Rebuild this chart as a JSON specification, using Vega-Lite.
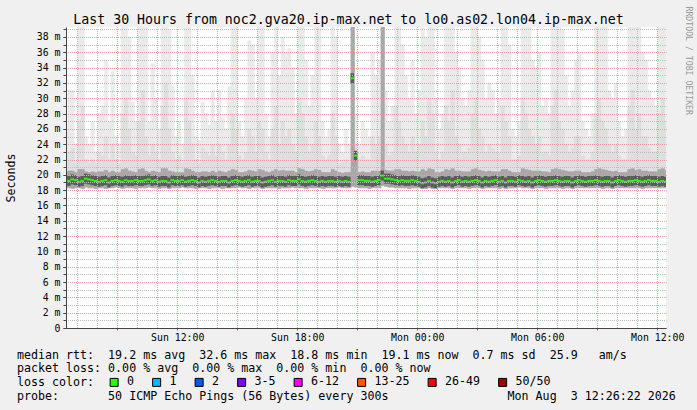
{
"$schema":"https://vega.github.io/schema/vega-lite/v6.json",
"width":600,"height":301,
"autosize":{"type":"none"},
"padding":{"left":66,"top":27,"right":31,"bottom":82},
"background":"#f0f0f0",
"config":{"font":"DejaVu Sans Mono","view":{"fill":"#ffffff","stroke":null},"axis":{"labelFont":"DejaVu Sans Mono","titleFont":"DejaVu Sans Mono","titleFontWeight":"normal","labelColor":"#000000","titleColor":"#000000"}},
"data":{"values":[
{"t":"2026-08-02T06:20","lo":18.3,"c2":20.4,"p90":22,"hi":26,"med":19.3,"loss":"0"},
{"t":"2026-08-02T06:30","lo":18.3,"c2":20.5,"p90":23,"hi":31,"med":19.2,"loss":"0"},
{"t":"2026-08-02T06:40","lo":18.2,"c2":20.5,"p90":23.5,"hi":31,"med":19.4,"loss":"0"},
{"t":"2026-08-02T06:50","lo":18.3,"c2":20.3,"p90":21.5,"hi":24,"med":19.3,"loss":"0"},
{"t":"2026-08-02T07:00","lo":18.3,"c2":20.7,"p90":27,"hi":45,"med":19.1,"loss":"0"},
{"t":"2026-08-02T07:10","lo":18.2,"c2":20.7,"p90":29,"hi":45,"med":19.2,"loss":"0"},
{"t":"2026-08-02T07:20","lo":18.4,"c2":20.4,"p90":22,"hi":25,"med":19.5,"loss":"0"},
{"t":"2026-08-02T07:30","lo":18.3,"c2":20.3,"p90":21.5,"hi":24,"med":19.4,"loss":"0"},
{"t":"2026-08-02T07:40","lo":18.3,"c2":20.4,"p90":22,"hi":27,"med":19.3,"loss":"0"},
{"t":"2026-08-02T07:50","lo":18.2,"c2":20.3,"p90":21.5,"hi":23,"med":19.2,"loss":"0"},
{"t":"2026-08-02T08:00","lo":18.3,"c2":20.4,"p90":23,"hi":28,"med":19.1,"loss":"0"},
{"t":"2026-08-02T08:10","lo":18.3,"c2":20.4,"p90":22.5,"hi":29,"med":19.2,"loss":"0"},
{"t":"2026-08-02T08:20","lo":18.2,"c2":20.6,"p90":25,"hi":35,"med":19.3,"loss":"0"},
{"t":"2026-08-02T08:30","lo":18.3,"c2":20.3,"p90":22,"hi":27,"med":19.0,"loss":"0"},
{"t":"2026-08-02T08:40","lo":18.3,"c2":20.5,"p90":24,"hi":33.5,"med":19.2,"loss":"0"},
{"t":"2026-08-02T08:50","lo":18.4,"c2":20.3,"p90":22,"hi":25,"med":19.3,"loss":"0"},
{"t":"2026-08-02T09:00","lo":18.3,"c2":20.3,"p90":21.5,"hi":24,"med":19.2,"loss":"0"},
{"t":"2026-08-02T09:10","lo":18.2,"c2":20.7,"p90":28,"hi":45,"med":19.1,"loss":"0"},
{"t":"2026-08-02T09:20","lo":18.3,"c2":20.8,"p90":30,"hi":45,"med":19.3,"loss":"0"},
{"t":"2026-08-02T09:30","lo":18.3,"c2":20.5,"p90":26,"hi":38,"med":19.2,"loss":"0"},
{"t":"2026-08-02T09:40","lo":18.3,"c2":20.4,"p90":23,"hi":29.5,"med":19.2,"loss":"0"},
{"t":"2026-08-02T09:50","lo":18.2,"c2":20.3,"p90":22.5,"hi":27,"med":19.3,"loss":"0"},
{"t":"2026-08-02T10:00","lo":18.3,"c2":20.7,"p90":27,"hi":45,"med":19.2,"loss":"0"},
{"t":"2026-08-02T10:10","lo":18.3,"c2":20.8,"p90":31,"hi":45,"med":19.2,"loss":"0"},
{"t":"2026-08-02T10:20","lo":18.3,"c2":20.5,"p90":25,"hi":40,"med":19.3,"loss":"0"},
{"t":"2026-08-02T10:30","lo":18.4,"c2":20.3,"p90":22.5,"hi":27,"med":19.4,"loss":"0"},
{"t":"2026-08-02T10:40","lo":18.3,"c2":20.5,"p90":24,"hi":34.5,"med":19.2,"loss":"0"},
{"t":"2026-08-02T10:50","lo":18.3,"c2":20.4,"p90":23,"hi":30,"med":19.3,"loss":"0"},
{"t":"2026-08-02T11:00","lo":18.2,"c2":20.3,"p90":22,"hi":26,"med":19.1,"loss":"0"},
{"t":"2026-08-02T11:10","lo":18.3,"c2":20.8,"p90":29,"hi":45,"med":19.2,"loss":"0"},
{"t":"2026-08-02T11:20","lo":18.3,"c2":20.8,"p90":32,"hi":45,"med":19.2,"loss":"0"},
{"t":"2026-08-02T11:30","lo":18.2,"c2":20.5,"p90":26,"hi":39,"med":19.0,"loss":"0"},
{"t":"2026-08-02T11:40","lo":18.3,"c2":20.4,"p90":23,"hi":31.5,"med":19.3,"loss":"0"},
{"t":"2026-08-02T11:50","lo":18.3,"c2":20.3,"p90":22,"hi":25,"med":19.2,"loss":"0"},
{"t":"2026-08-02T12:00","lo":18.3,"c2":20.3,"p90":22.5,"hi":27,"med":19.2,"loss":"0"},
{"t":"2026-08-02T12:10","lo":18.4,"c2":20.3,"p90":21.5,"hi":24,"med":19.3,"loss":"0"},
{"t":"2026-08-02T12:20","lo":18.3,"c2":20.8,"p90":30,"hi":45,"med":19.1,"loss":"0"},
{"t":"2026-08-02T12:30","lo":18.3,"c2":20.7,"p90":27,"hi":45,"med":19.2,"loss":"0"},
{"t":"2026-08-02T12:40","lo":18.3,"c2":20.5,"p90":24,"hi":33,"med":19.3,"loss":"0"},
{"t":"2026-08-02T12:50","lo":18.2,"c2":20.3,"p90":22,"hi":25,"med":19.2,"loss":"0"},
{"t":"2026-08-02T13:00","lo":18.3,"c2":20.3,"p90":21.5,"hi":24.5,"med":19.0,"loss":"0"},
{"t":"2026-08-02T13:10","lo":18.3,"c2":20.4,"p90":23.5,"hi":29.5,"med":19.2,"loss":"0"},
{"t":"2026-08-02T13:20","lo":18.3,"c2":20.4,"p90":23,"hi":28,"med":19.1,"loss":"0"},
{"t":"2026-08-02T13:30","lo":18.2,"c2":20.3,"p90":22.5,"hi":26.5,"med":19.2,"loss":"0"},
{"t":"2026-08-02T13:40","lo":18.3,"c2":20.5,"p90":24,"hi":31,"med":19.3,"loss":"0"},
{"t":"2026-08-02T13:50","lo":18.3,"c2":20.3,"p90":22.5,"hi":27,"med":19.2,"loss":"0"},
{"t":"2026-08-02T14:00","lo":18.3,"c2":20.5,"p90":24,"hi":31,"med":19.1,"loss":"0"},
{"t":"2026-08-02T14:10","lo":18.2,"c2":20.4,"p90":23,"hi":27.5,"med":19.2,"loss":"0"},
{"t":"2026-08-02T14:20","lo":18.3,"c2":20.3,"p90":22,"hi":26,"med":19.2,"loss":"0"},
{"t":"2026-08-02T14:30","lo":18.3,"c2":20.5,"p90":24,"hi":31.5,"med":19.0,"loss":"0"},
{"t":"2026-08-02T14:40","lo":18.3,"c2":20.7,"p90":28,"hi":45,"med":19.2,"loss":"0"},
{"t":"2026-08-02T14:50","lo":18.3,"c2":20.6,"p90":26,"hi":42,"med":19.3,"loss":"0"},
{"t":"2026-08-02T15:00","lo":18.4,"c2":20.3,"p90":22.5,"hi":27,"med":19.2,"loss":"0"},
{"t":"2026-08-02T15:10","lo":18.3,"c2":20.3,"p90":22,"hi":25,"med":19.1,"loss":"0"},
{"t":"2026-08-02T15:20","lo":18.3,"c2":20.4,"p90":23,"hi":30,"med":19.2,"loss":"0"},
{"t":"2026-08-02T15:30","lo":18.2,"c2":20.6,"p90":26,"hi":37.5,"med":19.3,"loss":"0"},
{"t":"2026-08-02T15:40","lo":18.3,"c2":20.5,"p90":25,"hi":37,"med":19.1,"loss":"0"},
{"t":"2026-08-02T15:50","lo":18.3,"c2":20.4,"p90":23,"hi":30,"med":19.2,"loss":"0"},
{"t":"2026-08-02T16:00","lo":18.3,"c2":20.7,"p90":27,"hi":45,"med":19.2,"loss":"0"},
{"t":"2026-08-02T16:10","lo":18.2,"c2":20.6,"p90":26,"hi":41,"med":19.0,"loss":"0"},
{"t":"2026-08-02T16:20","lo":18.3,"c2":20.4,"p90":23,"hi":28,"med":19.1,"loss":"0"},
{"t":"2026-08-02T16:30","lo":18.3,"c2":20.3,"p90":22,"hi":25,"med":19.2,"loss":"0"},
{"t":"2026-08-02T16:40","lo":18.3,"c2":20.5,"p90":26,"hi":36,"med":19.3,"loss":"0"},
{"t":"2026-08-02T16:50","lo":18.3,"c2":20.7,"p90":29,"hi":45,"med":19.1,"loss":"0"},
{"t":"2026-08-02T17:00","lo":18.2,"c2":20.5,"p90":24,"hi":33,"med":19.2,"loss":"0"},
{"t":"2026-08-02T17:10","lo":18.3,"c2":20.6,"p90":27,"hi":38,"med":19.2,"loss":"0"},
{"t":"2026-08-02T17:20","lo":18.3,"c2":20.5,"p90":25,"hi":36,"med":19.1,"loss":"0"},
{"t":"2026-08-02T17:30","lo":18.3,"c2":20.5,"p90":26,"hi":36.5,"med":19.3,"loss":"0"},
{"t":"2026-08-02T17:40","lo":18.4,"c2":20.5,"p90":24,"hi":34,"med":19.2,"loss":"0"},
{"t":"2026-08-02T17:50","lo":18.3,"c2":20.3,"p90":23,"hi":28,"med":19.2,"loss":"0"},
{"t":"2026-08-02T18:00","lo":18.3,"c2":20.8,"p90":30,"hi":45,"med":19.4,"loss":"0"},
{"t":"2026-08-02T18:10","lo":18.3,"c2":20.7,"p90":28,"hi":45,"med":19.2,"loss":"0"},
{"t":"2026-08-02T18:20","lo":18.2,"c2":20.5,"p90":25,"hi":35,"med":19.1,"loss":"0"},
{"t":"2026-08-02T18:30","lo":18.3,"c2":20.4,"p90":23,"hi":29,"med":19.2,"loss":"0"},
{"t":"2026-08-02T18:40","lo":18.3,"c2":20.5,"p90":24,"hi":33,"med":19.3,"loss":"0"},
{"t":"2026-08-02T18:50","lo":18.3,"c2":20.7,"p90":27,"hi":45,"med":19.2,"loss":"0"},
{"t":"2026-08-02T19:00","lo":18.3,"c2":20.6,"p90":25,"hi":41,"med":19.1,"loss":"0"},
{"t":"2026-08-02T19:10","lo":18.2,"c2":20.3,"p90":22.5,"hi":27,"med":19.2,"loss":"0"},
{"t":"2026-08-02T19:20","lo":18.3,"c2":20.3,"p90":22,"hi":25,"med":19.1,"loss":"0"},
{"t":"2026-08-02T19:30","lo":18.3,"c2":20.3,"p90":22.5,"hi":26,"med":19.2,"loss":"0"},
{"t":"2026-08-02T19:40","lo":18.3,"c2":20.7,"p90":28,"hi":45,"med":19.2,"loss":"0"},
{"t":"2026-08-02T19:50","lo":18.3,"c2":20.5,"p90":25,"hi":38,"med":19.1,"loss":"0"},
{"t":"2026-08-02T20:00","lo":18.4,"c2":20.3,"p90":21.5,"hi":24,"med":19.2,"loss":"0"},
{"t":"2026-08-02T20:10","lo":18.3,"c2":20.2,"p90":21.5,"hi":23,"med":19.1,"loss":"0"},
{"t":"2026-08-02T20:20","lo":18.3,"c2":20.3,"p90":22,"hi":26,"med":19.2,"loss":"0"},
{"t":"2026-08-02T20:30","lo":18.3,"c2":20.3,"p90":21.5,"hi":24,"med":19.1,"loss":"0"},
{"t":"2026-08-02T20:40","lo":18.5,"c2":45,"p90":45,"hi":45,"med":32.6,"loss":"0"},
{"t":"2026-08-02T20:50","lo":18.4,"c2":23,"p90":24,"hi":28,"med":22.5,"loss":"0"},
{"t":"2026-08-02T21:00","lo":18.3,"c2":20.3,"p90":22,"hi":24,"med":19.3,"loss":"0"},
{"t":"2026-08-02T21:10","lo":18.3,"c2":20.4,"p90":22.5,"hi":27,"med":19.3,"loss":"0"},
{"t":"2026-08-02T21:20","lo":18.3,"c2":20.3,"p90":22,"hi":26,"med":19.2,"loss":"0"},
{"t":"2026-08-02T21:30","lo":18.2,"c2":20.3,"p90":22,"hi":25,"med":19.2,"loss":"0"},
{"t":"2026-08-02T21:40","lo":18.3,"c2":20.5,"p90":25,"hi":36,"med":19.1,"loss":"0"},
{"t":"2026-08-02T21:50","lo":18.3,"c2":20.5,"p90":24,"hi":33,"med":19.2,"loss":"0"},
{"t":"2026-08-02T22:00","lo":18.3,"c2":20.5,"p90":25,"hi":35,"med":19.3,"loss":"0"},
{"t":"2026-08-02T22:10","lo":18.6,"c2":45,"p90":45,"hi":45,"med":19.9,"loss":"0"},
{"t":"2026-08-02T22:20","lo":18.5,"c2":20.6,"p90":24,"hi":31,"med":19.5,"loss":"0"},
{"t":"2026-08-02T22:30","lo":18.4,"c2":20.5,"p90":22.5,"hi":27,"med":19.5,"loss":"0"},
{"t":"2026-08-02T22:40","lo":18.4,"c2":20.5,"p90":23,"hi":29,"med":19.4,"loss":"0"},
{"t":"2026-08-02T22:50","lo":18.3,"c2":20.7,"p90":29,"hi":45,"med":19.3,"loss":"0"},
{"t":"2026-08-02T23:00","lo":18.3,"c2":20.7,"p90":27,"hi":45,"med":19.2,"loss":"0"},
{"t":"2026-08-02T23:10","lo":18.3,"c2":20.5,"p90":25,"hi":37,"med":19.3,"loss":"0"},
{"t":"2026-08-02T23:20","lo":18.3,"c2":20.5,"p90":24,"hi":33,"med":19.2,"loss":"0"},
{"t":"2026-08-02T23:30","lo":18.2,"c2":20.4,"p90":23,"hi":30,"med":19.2,"loss":"0"},
{"t":"2026-08-02T23:40","lo":18.3,"c2":20.5,"p90":25,"hi":35,"med":19.3,"loss":"0"},
{"t":"2026-08-02T23:50","lo":18.3,"c2":20.4,"p90":23,"hi":28,"med":19.2,"loss":"0"},
{"t":"2026-08-03T00:00","lo":18.3,"c2":20.4,"p90":24,"hi":31,"med":19.1,"loss":"0"},
{"t":"2026-08-03T00:10","lo":18.2,"c2":20.7,"p90":27,"hi":45,"med":18.9,"loss":"0"},
{"t":"2026-08-03T00:20","lo":18.2,"c2":20.5,"p90":25,"hi":38,"med":19.0,"loss":"0"},
{"t":"2026-08-03T00:30","lo":18.3,"c2":20.8,"p90":30,"hi":45,"med":19.2,"loss":"0"},
{"t":"2026-08-03T00:40","lo":18.2,"c2":20.7,"p90":28,"hi":45,"med":19.0,"loss":"0"},
{"t":"2026-08-03T00:50","lo":18.2,"c2":20.3,"p90":23,"hi":30,"med":18.9,"loss":"0"},
{"t":"2026-08-03T01:00","lo":18.3,"c2":20.3,"p90":22,"hi":26,"med":19.1,"loss":"0"},
{"t":"2026-08-03T01:10","lo":18.3,"c2":20.4,"p90":23,"hi":28,"med":19.2,"loss":"0"},
{"t":"2026-08-03T01:20","lo":18.3,"c2":20.7,"p90":29,"hi":45,"med":19.1,"loss":"0"},
{"t":"2026-08-03T01:30","lo":18.3,"c2":20.6,"p90":27,"hi":42,"med":19.2,"loss":"0"},
{"t":"2026-08-03T01:40","lo":18.2,"c2":20.8,"p90":31,"hi":45,"med":19.0,"loss":"0"},
{"t":"2026-08-03T01:50","lo":18.3,"c2":20.5,"p90":25,"hi":36,"med":19.2,"loss":"0"},
{"t":"2026-08-03T02:00","lo":18.3,"c2":20.5,"p90":24,"hi":34,"med":19.3,"loss":"0"},
{"t":"2026-08-03T02:10","lo":18.3,"c2":20.4,"p90":23,"hi":30,"med":19.1,"loss":"0"},
{"t":"2026-08-03T02:20","lo":18.3,"c2":20.4,"p90":23,"hi":29,"med":19.2,"loss":"0"},
{"t":"2026-08-03T02:30","lo":18.2,"c2":20.4,"p90":23.5,"hi":31,"med":19.1,"loss":"0"},
{"t":"2026-08-03T02:40","lo":18.3,"c2":20.7,"p90":28,"hi":45,"med":19.2,"loss":"0"},
{"t":"2026-08-03T02:50","lo":18.3,"c2":20.8,"p90":30,"hi":45,"med":19.3,"loss":"0"},
{"t":"2026-08-03T03:00","lo":18.3,"c2":20.6,"p90":26,"hi":38,"med":19.2,"loss":"0"},
{"t":"2026-08-03T03:10","lo":18.2,"c2":20.5,"p90":25,"hi":35,"med":19.0,"loss":"0"},
{"t":"2026-08-03T03:20","lo":18.3,"c2":20.4,"p90":23,"hi":30,"med":19.2,"loss":"0"},
{"t":"2026-08-03T03:30","lo":18.3,"c2":20.5,"p90":24,"hi":32,"med":19.1,"loss":"0"},
{"t":"2026-08-03T03:40","lo":18.3,"c2":20.4,"p90":23.5,"hi":31,"med":19.2,"loss":"0"},
{"t":"2026-08-03T03:50","lo":18.3,"c2":20.4,"p90":23,"hi":28,"med":19.3,"loss":"0"},
{"t":"2026-08-03T04:00","lo":18.2,"c2":20.4,"p90":23,"hi":30,"med":19.1,"loss":"0"},
{"t":"2026-08-03T04:10","lo":18.3,"c2":20.7,"p90":29,"hi":45,"med":19.2,"loss":"0"},
{"t":"2026-08-03T04:20","lo":18.2,"c2":20.7,"p90":27,"hi":45,"med":19.0,"loss":"0"},
{"t":"2026-08-03T04:30","lo":18.3,"c2":20.5,"p90":25,"hi":37,"med":19.2,"loss":"0"},
{"t":"2026-08-03T04:40","lo":18.3,"c2":20.3,"p90":22,"hi":26,"med":19.2,"loss":"0"},
{"t":"2026-08-03T04:50","lo":18.3,"c2":20.3,"p90":22,"hi":25,"med":19.1,"loss":"0"},
{"t":"2026-08-03T05:00","lo":18.4,"c2":20.3,"p90":22.5,"hi":27,"med":19.3,"loss":"0"},
{"t":"2026-08-03T05:10","lo":18.3,"c2":20.8,"p90":30,"hi":45,"med":19.2,"loss":"0"},
{"t":"2026-08-03T05:20","lo":18.3,"c2":20.7,"p90":28,"hi":45,"med":19.1,"loss":"0"},
{"t":"2026-08-03T05:30","lo":18.3,"c2":20.6,"p90":26,"hi":40,"med":19.2,"loss":"0"},
{"t":"2026-08-03T05:40","lo":18.2,"c2":20.5,"p90":25,"hi":35,"med":19.0,"loss":"0"},
{"t":"2026-08-03T05:50","lo":18.3,"c2":20.5,"p90":24,"hi":34,"med":19.2,"loss":"0"},
{"t":"2026-08-03T06:00","lo":18.3,"c2":20.5,"p90":25,"hi":36,"med":19.3,"loss":"0"},
{"t":"2026-08-03T06:10","lo":18.3,"c2":20.4,"p90":23,"hi":29,"med":19.2,"loss":"0"},
{"t":"2026-08-03T06:20","lo":18.2,"c2":20.4,"p90":23,"hi":30,"med":19.1,"loss":"0"},
{"t":"2026-08-03T06:30","lo":18.3,"c2":20.3,"p90":22.5,"hi":28,"med":19.2,"loss":"0"},
{"t":"2026-08-03T06:40","lo":18.3,"c2":20.7,"p90":29,"hi":45,"med":19.2,"loss":"0"},
{"t":"2026-08-03T06:50","lo":18.3,"c2":20.8,"p90":31,"hi":45,"med":19.3,"loss":"0"},
{"t":"2026-08-03T07:00","lo":18.3,"c2":20.7,"p90":27,"hi":45,"med":19.2,"loss":"0"},
{"t":"2026-08-03T07:10","lo":18.2,"c2":20.6,"p90":26,"hi":39,"med":19.1,"loss":"0"},
{"t":"2026-08-03T07:20","lo":18.3,"c2":20.5,"p90":24,"hi":33,"med":19.2,"loss":"0"},
{"t":"2026-08-03T07:30","lo":18.3,"c2":20.4,"p90":23,"hi":29,"med":19.2,"loss":"0"},
{"t":"2026-08-03T07:40","lo":18.2,"c2":20.4,"p90":23.5,"hi":31,"med":19.0,"loss":"0"},
{"t":"2026-08-03T07:50","lo":18.3,"c2":20.5,"p90":25,"hi":35,"med":19.2,"loss":"0"},
{"t":"2026-08-03T08:00","lo":18.3,"c2":20.5,"p90":25,"hi":36,"med":19.3,"loss":"0"},
{"t":"2026-08-03T08:10","lo":18.3,"c2":20.3,"p90":22.5,"hi":27,"med":19.2,"loss":"0"},
{"t":"2026-08-03T08:20","lo":18.3,"c2":20.3,"p90":22,"hi":26,"med":19.1,"loss":"0"},
{"t":"2026-08-03T08:30","lo":18.3,"c2":20.3,"p90":22,"hi":25,"med":19.2,"loss":"0"},
{"t":"2026-08-03T08:40","lo":18.3,"c2":20.4,"p90":23,"hi":28,"med":19.2,"loss":"0"},
{"t":"2026-08-03T08:50","lo":18.3,"c2":20.7,"p90":28,"hi":45,"med":19.3,"loss":"0"},
{"t":"2026-08-03T09:00","lo":18.3,"c2":20.8,"p90":30,"hi":45,"med":19.2,"loss":"0"},
{"t":"2026-08-03T09:10","lo":18.2,"c2":20.7,"p90":27,"hi":45,"med":19.1,"loss":"0"},
{"t":"2026-08-03T09:20","lo":18.3,"c2":20.6,"p90":26,"hi":40,"med":19.2,"loss":"0"},
{"t":"2026-08-03T09:30","lo":18.3,"c2":20.5,"p90":24,"hi":31,"med":19.2,"loss":"0"},
{"t":"2026-08-03T09:40","lo":18.2,"c2":20.4,"p90":23,"hi":30,"med":19.0,"loss":"0"},
{"t":"2026-08-03T09:50","lo":18.3,"c2":20.5,"p90":24,"hi":32,"med":19.2,"loss":"0"},
{"t":"2026-08-03T10:00","lo":18.3,"c2":20.3,"p90":22.5,"hi":27,"med":19.3,"loss":"0"},
{"t":"2026-08-03T10:10","lo":18.3,"c2":20.3,"p90":22,"hi":25,"med":19.2,"loss":"0"},
{"t":"2026-08-03T10:20","lo":18.3,"c2":20.3,"p90":22,"hi":26,"med":19.1,"loss":"0"},
{"t":"2026-08-03T10:30","lo":18.3,"c2":20.7,"p90":29,"hi":45,"med":19.2,"loss":"0"},
{"t":"2026-08-03T10:40","lo":18.3,"c2":20.8,"p90":31,"hi":45,"med":19.2,"loss":"0"},
{"t":"2026-08-03T10:50","lo":18.3,"c2":20.6,"p90":26,"hi":41,"med":19.3,"loss":"0"},
{"t":"2026-08-03T11:00","lo":18.3,"c2":20.7,"p90":28,"hi":45,"med":19.2,"loss":"0"},
{"t":"2026-08-03T11:10","lo":18.2,"c2":20.5,"p90":25,"hi":36,"med":19.1,"loss":"0"},
{"t":"2026-08-03T11:20","lo":18.3,"c2":20.5,"p90":25,"hi":35,"med":19.2,"loss":"0"},
{"t":"2026-08-03T11:30","lo":18.3,"c2":20.4,"p90":23.5,"hi":31,"med":19.3,"loss":"0"},
{"t":"2026-08-03T11:40","lo":18.3,"c2":20.4,"p90":23,"hi":30,"med":19.2,"loss":"0"},
{"t":"2026-08-03T11:50","lo":18.3,"c2":20.4,"p90":23,"hi":29,"med":19.2,"loss":"0"},
{"t":"2026-08-03T12:00","lo":18.3,"c2":20.7,"p90":28,"hi":45,"med":19.1,"loss":"0"},
{"t":"2026-08-03T12:10","lo":18.3,"c2":20.8,"p90":30,"hi":45,"med":19.2,"loss":"0"},
{"t":"2026-08-03T12:20","lo":18.3,"c2":20.6,"p90":27,"hi":42,"med":19.1,"loss":"0"}
]},
"resolve":{"axis":{"x":"independent","y":"independent"}},
"layer":[
{"mark":{"type":"bar","color":"#ebebeb","stroke":"#ebebeb","strokeWidth":0.6,"binSpacing":0,"clip":true},
 "encoding":{
  "x":{"field":"t","type":"temporal","timeUnit":{"unit":"yearmonthdatehoursminutes","step":10},
       "scale":{"domain":[{"year":2026,"month":8,"date":2,"hours":6,"minutes":26,"seconds":22},{"year":2026,"month":8,"date":3,"hours":12,"minutes":26,"seconds":22}],"nice":false},
       "axis":{"orient":"bottom","values":[{"year":2026,"month":8,"date":2,"hours":7},{"year":2026,"month":8,"date":2,"hours":8},{"year":2026,"month":8,"date":2,"hours":9},{"year":2026,"month":8,"date":2,"hours":10},{"year":2026,"month":8,"date":2,"hours":11},{"year":2026,"month":8,"date":2,"hours":12},{"year":2026,"month":8,"date":2,"hours":13},{"year":2026,"month":8,"date":2,"hours":14},{"year":2026,"month":8,"date":2,"hours":15},{"year":2026,"month":8,"date":2,"hours":16},{"year":2026,"month":8,"date":2,"hours":17},{"year":2026,"month":8,"date":2,"hours":18},{"year":2026,"month":8,"date":2,"hours":19},{"year":2026,"month":8,"date":2,"hours":20},{"year":2026,"month":8,"date":2,"hours":21},{"year":2026,"month":8,"date":2,"hours":22},{"year":2026,"month":8,"date":2,"hours":23},{"year":2026,"month":8,"date":3,"hours":0},{"year":2026,"month":8,"date":3,"hours":1},{"year":2026,"month":8,"date":3,"hours":2},{"year":2026,"month":8,"date":3,"hours":3},{"year":2026,"month":8,"date":3,"hours":4},{"year":2026,"month":8,"date":3,"hours":5},{"year":2026,"month":8,"date":3,"hours":6},{"year":2026,"month":8,"date":3,"hours":7},{"year":2026,"month":8,"date":3,"hours":8},{"year":2026,"month":8,"date":3,"hours":9},{"year":2026,"month":8,"date":3,"hours":10},{"year":2026,"month":8,"date":3,"hours":11},{"year":2026,"month":8,"date":3,"hours":12}],
               "grid":true,"gridColor":"#bdbdbd","gridDash":[1,1],"gridDashOffset":0.5,"labels":false,"ticks":false,"domain":false,"title":null,"zindex":1}},
  "y":{"field":"lo","type":"quantitative","scale":{"domain":[0,39.3],"nice":false,"zero":false},
       "axis":{"orient":"left","values":[0,1,2,3,4,5,6,7,8,9,10,11,12,13,14,15,16,17,18,19,20,21,22,23,24,25,26,27,28,29,30,31,32,33,34,35,36,37,38,39],"grid":true,"gridColor":"#bdbdbd","gridDash":[1,1],"gridDashOffset":0.5,"labels":false,"ticks":true,"tickSize":3,"tickColor":"#444444","domain":false,"title":null,"zindex":1}},
  "y2":{"field":"hi"}}},
{"mark":{"type":"bar","color":"#dfdfdf","stroke":"#dfdfdf","strokeWidth":0.6,"binSpacing":0,"clip":true},
 "encoding":{
  "x":{"field":"t","type":"temporal","timeUnit":{"unit":"yearmonthdatehoursminutes","step":10},
       "scale":{"domain":[{"year":2026,"month":8,"date":2,"hours":6,"minutes":26,"seconds":22},{"year":2026,"month":8,"date":3,"hours":12,"minutes":26,"seconds":22}],"nice":false},
       "axis":{"orient":"bottom","values":[{"year":2026,"month":8,"date":2,"hours":9},{"year":2026,"month":8,"date":2,"hours":12},{"year":2026,"month":8,"date":2,"hours":15},{"year":2026,"month":8,"date":2,"hours":18},{"year":2026,"month":8,"date":2,"hours":21},{"year":2026,"month":8,"date":3,"hours":0},{"year":2026,"month":8,"date":3,"hours":3},{"year":2026,"month":8,"date":3,"hours":6},{"year":2026,"month":8,"date":3,"hours":9},{"year":2026,"month":8,"date":3,"hours":12}],
               "grid":true,"gridColor":"#ef9a9a","gridDash":[1,1],"gridDashOffset":0.5,"labels":false,"ticks":true,"tickSize":2,"tickColor":"#c05050","domain":false,"title":null,"zindex":1}},
  "y":{"field":"lo","type":"quantitative","scale":{"domain":[0,39.3],"nice":false,"zero":false},
       "axis":{"orient":"left","values":[0,2,4,6,8,10,12,14,16,18,20,22,24,26,28,30,32,34,36,38],"grid":true,"gridColor":"#ef9a9a","gridDash":[1,1],"gridDashOffset":0.5,
               "labelExpr":"datum.value == 0 ? '0' : datum.value + ' m'","labelFontSize":9.85,"labelPadding":3,
               "ticks":true,"tickSize":3,"tickColor":"#444444","domain":true,"domainColor":"#444444",
               "title":"Seconds","titleFontSize":11.65,"titleX":-55,"titleY":150.5,"titleAngle":270,"titleAlign":"center","titleBaseline":"middle","zindex":1}},
  "y2":{"field":"p90"}}},
{"mark":{"type":"bar","color":"#a8a8a8","stroke":"#a8a8a8","strokeWidth":0.6,"binSpacing":0,"clip":true},
 "encoding":{
  "x":{"field":"t","type":"temporal","timeUnit":{"unit":"yearmonthdatehoursminutes","step":10},
       "scale":{"domain":[{"year":2026,"month":8,"date":2,"hours":6,"minutes":26,"seconds":22},{"year":2026,"month":8,"date":3,"hours":12,"minutes":26,"seconds":22}],"nice":false},
       "axis":{"orient":"bottom","values":[{"year":2026,"month":8,"date":2,"hours":12},{"year":2026,"month":8,"date":2,"hours":18},{"year":2026,"month":8,"date":3,"hours":0},{"year":2026,"month":8,"date":3,"hours":6},{"year":2026,"month":8,"date":3,"hours":12}],
               "format":"%a %H:%M","labelFontSize":9.85,"labelPadding":4,"labelFlush":false,"labelOverlap":false,"labelBound":false,
               "grid":false,"ticks":false,"domain":true,"domainColor":"#444444",
               "title":["median rtt:\u00a0\u00a019.2 ms avg\u00a0\u00a032.6 ms max\u00a0\u00a018.8 ms min\u00a0\u00a019.1 ms now\u00a0\u00a00.7 ms sd\u00a0\u00a025.9\u00a0\u00a0\u00a0am/s",
                        "packet loss: 0.00 % avg\u00a0\u00a00.00 % max\u00a0\u00a00.00 % min\u00a0\u00a00.00 % now",
                        "loss color:",
                        "probe:\u00a0\u00a0\u00a0\u00a0\u00a0\u00a0\u00a050 ICMP Echo Pings (56 Bytes) every 300s\u00a0\u00a0\u00a0\u00a0\u00a0\u00a0\u00a0\u00a0\u00a0\u00a0\u00a0\u00a0\u00a0\u00a0\u00a0\u00a0\u00a0Mon Aug\u00a0\u00a03 12:26:22 2026"],
               "titleFontSize":11.65,"titleX":-49.5,"titleY":21,"titleAlign":"left","titleAnchor":"start","titleBaseline":"top","titleLineHeight":13.7,"zindex":1}},
  "y":{"field":"lo","type":"quantitative","scale":{"domain":[0,39.3],"nice":false,"zero":false},
       "axis":{"orient":"right","labels":false,"ticks":false,"domain":false,"grid":false,"title":"RRDTOOL / TOBI OETIKER","titleFontSize":8.2,"titleColor":"#9a9a9a","titleX":21.5,"titleY":-21,"titleAngle":90,"titleAlign":"left","titleBaseline":"middle"}},
  "y2":{"field":"c2"}}},
{"mark":{"type":"tick","orient":"horizontal","size":3.4,"thickness":10,"color":"#5a5a5a","opacity":1,"clip":true},
 "encoding":{
  "x":{"field":"t","type":"temporal","timeUnit":{"unit":"yearmonthdatehoursminutes","step":10},"bandPosition":0.5,
       "scale":{"domain":[{"year":2026,"month":8,"date":2,"hours":6,"minutes":26,"seconds":22},{"year":2026,"month":8,"date":3,"hours":12,"minutes":26,"seconds":22}],"nice":false},
       "axis":{"orient":"top","labels":false,"ticks":false,"domain":false,"grid":false,"title":"Last 30 Hours from noc2.gva20.ip-max.net to lo0.as02.lon04.ip-max.net","titleFontSize":13.25,"titleX":282,"titleY":-7.7,"titleAlign":"center","titleBaseline":"middle"}},
  "y":{"field":"med","type":"quantitative","scale":{"domain":[0,39.3],"nice":false,"zero":false},"axis":null}}},
{"mark":{"type":"tick","orient":"horizontal","size":3.4,"thickness":2,"opacity":1,"clip":true},
 "encoding":{
  "x":{"field":"t","type":"temporal","timeUnit":{"unit":"yearmonthdatehoursminutes","step":10},"bandPosition":0.5,
       "scale":{"domain":[{"year":2026,"month":8,"date":2,"hours":6,"minutes":26,"seconds":22},{"year":2026,"month":8,"date":3,"hours":12,"minutes":26,"seconds":22}],"nice":false},"axis":null},
  "y":{"field":"med","type":"quantitative","scale":{"domain":[0,39.3],"nice":false,"zero":false},"axis":null},
  "color":{"field":"loss","type":"nominal",
    "scale":{"domain":["0","1","2","3-5","6-12","13-25","26-49","50/50"],"range":["#26ff00","#00b8ff","#0059ff","#7e00ff","#ff00ff","#ff5500","#ff0000","#a10000"]},
    "legend":{"orient":"none","legendX":42.3,"legendY":349.5,"direction":"horizontal","title":null,"symbolType":"square","symbolSize":64,"symbolStrokeColor":"#000000","symbolStrokeWidth":1,"symbolOpacity":1,
              "labelFont":"DejaVu Sans Mono","labelFontSize":11.65,"labelColor":"#000000","labelOffset":7,"columnPadding":15.5,"padding":0}}}}
]
}
